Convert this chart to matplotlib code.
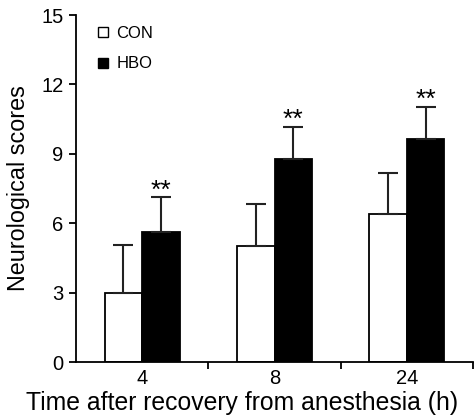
import numpy as np
import matplotlib.pyplot as plt
from matplotlib.lines import Line2D

plt.rcParams['font.family'] = ['Liberation Sans', 'DejaVu Sans']

groups = ['4', '8', '24']
con_mean = [3.0, 5.0, 6.38]
con_err = [2.06, 1.82, 1.8]
hbo_mean = [5.62, 8.77, 9.64]
hbo_err = [1.5, 1.4, 1.4]
stars = ['**', '**', '**']

fig = plt.figure(figsize=(4.77, 4.19), dpi=100)
ax = fig.add_axes([0.159, 0.136, 0.833, 0.828])

x = np.arange(len(groups)) + 0.5
w = 0.283
ekw = dict(ecolor='#222222', elinewidth=1.5, capsize=7, capthick=1.5)
ax.bar(x - w/2, con_mean, w, color='white', edgecolor='black', linewidth=1.3,
       yerr=[np.zeros(3), con_err], error_kw=ekw, zorder=2)
ax.bar(x + w/2, hbo_mean, w, color='black', edgecolor='black', linewidth=1.3,
       yerr=[np.zeros(3), hbo_err], error_kw=ekw, zorder=2)

for xi, m, e, s in zip(x + w/2, hbo_mean, hbo_err, stars):
    ax.annotate(s, (xi, m + e), xytext=(0, -4), textcoords='offset points',
                ha='center', va='bottom', fontsize=19)

ax.set_xlim(0, 3)
ax.set_ylim(0, 15)
ax.set_yticks([0, 3, 6, 9, 12, 15])
ax.set_xticks([1, 2, 3])
ax.set_xticklabels([])
ax.set_xticks(x, minor=True)
ax.set_xticklabels(groups, minor=True)
ax.tick_params(axis='x', which='minor', length=0, labelsize=14.5, pad=5)
ax.tick_params(axis='x', which='major', length=5, width=1.3)
ax.tick_params(axis='y', length=5, width=1.3, labelsize=14.5, pad=4)

ax.spines['top'].set_visible(False)
ax.spines['right'].set_visible(False)
ax.spines['left'].set_linewidth(1.3)
ax.spines['bottom'].set_linewidth(1.3)

ax.set_xlabel('Time after recovery from anesthesia (h)', fontsize=17.8)
ax.xaxis.set_label_coords(0.418, -0.083)
ax.set_ylabel('Neurological scores', fontsize=16.8, labelpad=8)

handles = [Line2D([], [], marker='s', linestyle='none', markersize=6.5,
                  markerfacecolor='white', markeredgecolor='black', markeredgewidth=1),
           Line2D([], [], marker='s', linestyle='none', markersize=6.5,
                  markerfacecolor='black', markeredgecolor='black')]
ax.legend(handles, ['CON', 'HBO'], loc='upper left', bbox_to_anchor=(0.018, 1.013),
          frameon=False, fontsize=12, handlelength=0.6, handletextpad=0.5,
          labelspacing=0.95)

fig.savefig('out.png', dpi=100)
